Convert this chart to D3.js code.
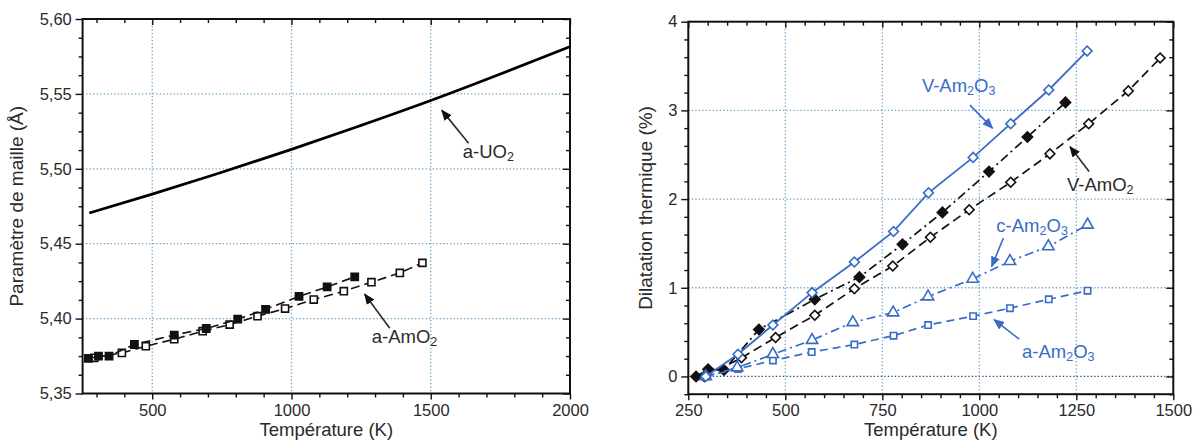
<!DOCTYPE html>
<html><head><meta charset="utf-8">
<script src="https://cdn.jsdelivr.net/npm/d3@7"></script>
<style>body{margin:0;background:#fff}svg{display:block;font-family:"Liberation Sans",Arial,sans-serif}</style>
</head><body><svg id="c" width="1200" height="441"></svg>
<script>
// ---------- Data: left panel (lattice parameter) ----------
const uo2T   = [274, 500, 750, 1000, 1250, 1500, 1750, 2000];
const uo2A   = [5.4705, 5.4831, 5.4977, 5.5130, 5.5290, 5.5456, 5.5633, 5.5815];
const amo2FilledT = [271, 307, 345, 436, 579, 694, 807, 907, 1027, 1128, 1227];
const amo2FilledA = [5.3734, 5.3749, 5.3750, 5.3827, 5.3890, 5.3934, 5.3996, 5.4062, 5.4148, 5.4212, 5.4279];
const amo2OpenT = [292, 391, 477, 579, 681, 778, 878, 977, 1080, 1188, 1287, 1389, 1470];
const amo2OpenA = [5.3738, 5.3771, 5.3816, 5.3862, 5.3916, 5.3960, 5.4016, 5.4067, 5.4127, 5.4183, 5.4243, 5.4305, 5.4372];
const leftXTicks = [500, 1000, 1500, 2000];
const leftYTicks = [5.35, 5.40, 5.45, 5.50, 5.55, 5.60];

// ---------- Data: right panel (thermal expansion %) ----------
const vAm2O3T = [295, 378, 468, 569, 678, 779, 869, 984, 1081, 1179, 1278];
const vAm2O3V = [0, 0.25, 0.58, 0.945, 1.29, 1.635, 2.07, 2.47, 2.85, 3.23, 3.67];
const vAmO2FilledT = [270, 301, 342, 432, 576, 691, 802, 905, 1025, 1124, 1222];
const vAmO2FilledV = [0, 0.08, 0.073, 0.53, 0.87, 1.12, 1.49, 1.85, 2.31, 2.70, 3.09];
const vAmO2OpenT = [291, 387, 475, 576, 678, 777, 874, 974, 1081, 1182, 1282, 1384, 1466];
const vAmO2OpenV = [0, 0.21, 0.44, 0.69, 0.99, 1.245, 1.57, 1.88, 2.19, 2.51, 2.85, 3.22, 3.59];
const cAm2O3T = [295, 376, 468, 569, 674, 778, 868, 983, 1079, 1178, 1279];
const cAm2O3V = [0, 0.10, 0.25, 0.41, 0.61, 0.72, 0.90, 1.10, 1.30, 1.465, 1.71];
const aAm2O3T = [295, 378, 468, 568, 678, 779, 868, 984, 1079, 1179, 1279];
const aAm2O3V = [0, 0.085, 0.18, 0.275, 0.36, 0.46, 0.58, 0.68, 0.77, 0.87, 0.967];
const rightXTicks = [250, 500, 750, 1000, 1250, 1500];
const rightYTicks = [0, 1, 2, 3, 4];

const BLUE = "#3a6cc6", GRID = "#6aa3c8", TXT = "#2a2a2a";
const svg = d3.select("#c");
const defs = svg.append("defs");
[["arrK", "#111"], ["arrB", BLUE]].forEach(([id, col]) => {
  defs.append("marker").attr("id", id).attr("viewBox", "0 0 10 10").attr("refX", 9).attr("refY", 5)
    .attr("markerWidth", 11).attr("markerHeight", 11).attr("markerUnits", "userSpaceOnUse").attr("orient", "auto")
    .append("path").attr("d", "M0,0.8 L10,5 L0,9.2 Z").attr("fill", col);
});

const zip = (a, b) => a.map((v, i) => [v, b[i]]);

function panel(o) {
  const g = svg.append("g");
  const x = d3.scaleLinear().domain(o.xd).range([o.x0, o.x1]);
  const y = d3.scaleLinear().domain(o.yd).range([o.y1, o.y0]);
  o.xGrid.forEach(v => g.append("line").attr("x1", x(v)).attr("x2", x(v)).attr("y1", o.y0).attr("y2", o.y1)
    .attr("stroke", GRID).attr("stroke-width", 1.3).attr("stroke-dasharray", "1.3,2.2"));
  o.yGrid.forEach(v => g.append("line").attr("y1", y(v)).attr("y2", y(v)).attr("x1", o.x0).attr("x2", o.x1)
    .attr("stroke", (o.darkY === v) ? "#33415a" : GRID).attr("stroke-width", 1.3).attr("stroke-dasharray", "1.3,2.2"));
  const mk = (axis, tr, vals, size, fmt) => {
    const a = g.append("g").attr("transform", tr)
      .call(axis.tickValues(vals).tickSize(size).tickSizeOuter(0).tickFormat(fmt || ""));
    a.select(".domain").remove();
    a.selectAll("line").attr("stroke", "#111").attr("stroke-width", 1.4);
    a.selectAll("text").attr("fill", TXT).attr("font-size", 16.5).attr("font-family", "Liberation Sans, Arial, sans-serif");
    return a;
  };
  const bx = mk(d3.axisBottom(x), `translate(0,${o.y1})`, o.xTicks, 6, o.xFmt);
  bx.selectAll("text").attr("y", 9).attr("dy", null)
    .attr("transform", `translate(0,${415.5 - o.y1 - 9})`);
  mk(d3.axisBottom(x), `translate(0,${o.y1})`, o.xMinor, 4);
  mk(d3.axisTop(x), `translate(0,${o.y0})`, o.xTicks, -6);
  mk(d3.axisTop(x), `translate(0,${o.y0})`, o.xMinor, -4);
  const ly = mk(d3.axisLeft(y), `translate(${o.x0},0)`, o.yTicks, 7, o.yFmt);
  ly.selectAll("text").attr("dx", "-0.05em");
  mk(d3.axisLeft(y), `translate(${o.x0},0)`, o.yMinor, 4);
  mk(d3.axisRight(y), `translate(${o.x1},0)`, o.yTicks, -7);
  mk(d3.axisRight(y), `translate(${o.x1},0)`, o.yMinor, -4);
  g.append("rect").attr("x", o.x0).attr("y", o.y0).attr("width", o.x1 - o.x0).attr("height", o.y1 - o.y0)
    .attr("fill", "none").attr("stroke", "#111").attr("stroke-width", 2);
  g.append("text").attr("x", (o.x0 + o.x1) / 2).attr("y", 436).attr("text-anchor", "middle")
    .attr("font-size", 18.5).attr("fill", TXT).text("Température (K)");
  g.append("text").attr("transform", `translate(${o.yTitleX},${(o.y0 + o.y1) / 2}) rotate(-90)`)
    .attr("text-anchor", "middle").attr("font-size", 19).attr("fill", TXT).text(o.yTitle);
  return {g, x, y};
}

function series(p, T, V, opt) {
  const line = d3.line().x(d => p.x(d[0])).y(d => p.y(d[1])).curve(opt.curve || d3.curveLinear);
  const pts = zip(T, V);
  p.g.append("path").attr("d", line(pts)).attr("fill", "none").attr("stroke", opt.color)
    .attr("stroke-width", opt.lw || 1.7).attr("stroke-dasharray", opt.dash || null);
  if (!opt.sym) return;
  p.g.selectAll(null).data(pts).enter().append("path")
    .attr("d", d3.symbol().type(opt.sym).size(opt.size))
    .attr("transform", d => `translate(${p.x(d[0])},${p.y(d[1])})${opt.rot ? " rotate(45)" : ""}`)
    .attr("fill", opt.filled ? opt.color : "#fff").attr("stroke", opt.color).attr("stroke-width", 1.6);
}

function label(p, tx, ty, parts, color, from, to) {
  const t = p.g.append("text").attr("x", p.x(tx)).attr("y", p.y(ty)).attr("font-size", 18.5).attr("fill", color);
  let prevSub = false;
  parts.forEach(([s, sub]) => {
    const ts = t.append("tspan").text(s);
    if (sub) { ts.attr("font-size", 12.5).attr("dy", 3); prevSub = true; }
    else { if (prevSub) ts.attr("dy", -3); prevSub = false; }
  });
  p.g.append("line").attr("x1", p.x(from[0])).attr("y1", p.y(from[1])).attr("x2", p.x(to[0])).attr("y2", p.y(to[1]))
    .attr("stroke", color).attr("stroke-width", 1.6).attr("marker-end", color === BLUE ? "url(#arrB)" : "url(#arrK)");
}

const fmtComma = d => d3.format(".2f")(d).replace(".", ",");

// ---------- Left panel ----------
const L = panel({
  x0: 82.6, x1: 570, y0: 19, y1: 393.5, xd: [250, 2000], yd: [5.35, 5.60],
  xTicks: leftXTicks, xMinor: d3.range(300, 2000, 100).filter(v => v % 500),
  yTicks: leftYTicks, yMinor: d3.range(0, 20).map(i => 5.35 + i * 0.0125).filter((v, i) => i % 4),
  xGrid: [500, 1000, 1500], yGrid: [5.40, 5.45, 5.50, 5.55],
  xFmt: d3.format("d"), yFmt: fmtComma, yTitle: "Paramètre de maille (Å)", yTitleX: 23
});
series(L, uo2T, uo2A, {color: "#000", lw: 2.8, curve: d3.curveNatural});
series(L, amo2OpenT, amo2OpenA, {color: "#111", dash: "9,5", sym: d3.symbolSquare, size: 50, lw: 1.6});
series(L, amo2FilledT, amo2FilledA, {color: "#111", dash: "9,5", sym: d3.symbolSquare, size: 52, filled: true, lw: 1.6});
label(L, 1615, 5.507, [["a-UO"], ["2", 1]], TXT, [1636, 5.517], [1540, 5.539]);
label(L, 1288, 5.3836, [["a-AmO"], ["2", 1]], TXT, [1353, 5.3936], [1263, 5.4163]);

// ---------- Right panel ----------
const R = panel({
  x0: 688.3, x1: 1173.3, y0: 21.7, y1: 394.2, xd: [250, 1500], yd: [-0.2, 4],
  xTicks: rightXTicks, xMinor: d3.range(300, 1500, 50).filter(v => v % 250),
  yTicks: rightYTicks, yMinor: [-0.2, 0.2, 0.4, 0.6, 0.8, 1.2, 1.4, 1.6, 1.8, 2.2, 2.4, 2.6, 2.8, 3.2, 3.4, 3.6, 3.8],
  xGrid: [500, 750, 1000, 1250], yGrid: [0, 1, 2, 3], darkY: 0,
  xFmt: d3.format("d"), yFmt: d3.format("d"), yTitle: "Dilatation thermique (%)", yTitleX: 652
});
series(R, vAmO2OpenT, vAmO2OpenV, {color: "#111", dash: "9,5", sym: d3.symbolSquare, size: 48, rot: true});
series(R, vAmO2FilledT, vAmO2FilledV, {color: "#111", dash: "9,4,2,4", sym: d3.symbolSquare, size: 54, rot: true, filled: true});
series(R, aAm2O3T, aAm2O3V, {color: BLUE, dash: "8,5", sym: d3.symbolSquare, size: 40});
series(R, cAm2O3T, cAm2O3V, {color: BLUE, dash: "9,4,2,4", sym: d3.symbolTriangle, size: 56});
series(R, vAm2O3T, vAm2O3V, {color: BLUE, sym: d3.symbolSquare, size: 48, rot: true, lw: 1.8});
label(R, 852, 3.21, [["V-Am"], ["2", 1], ["O"], ["3", 1]], BLUE, [976, 3.06], [1034, 2.80]);
label(R, 1226, 2.09, [["V-AmO"], ["2", 1]], TXT, [1283, 2.31], [1234, 2.59]);
label(R, 1044, 1.63, [["c-Am"], ["2", 1], ["O"], ["3", 1]], BLUE, [1062, 1.56], [1032, 1.24]);
label(R, 1110, 0.21, [["a-Am"], ["2", 1], ["O"], ["3", 1]], BLUE, [1103, 0.42], [1038, 0.64]);
</script></body></html>
